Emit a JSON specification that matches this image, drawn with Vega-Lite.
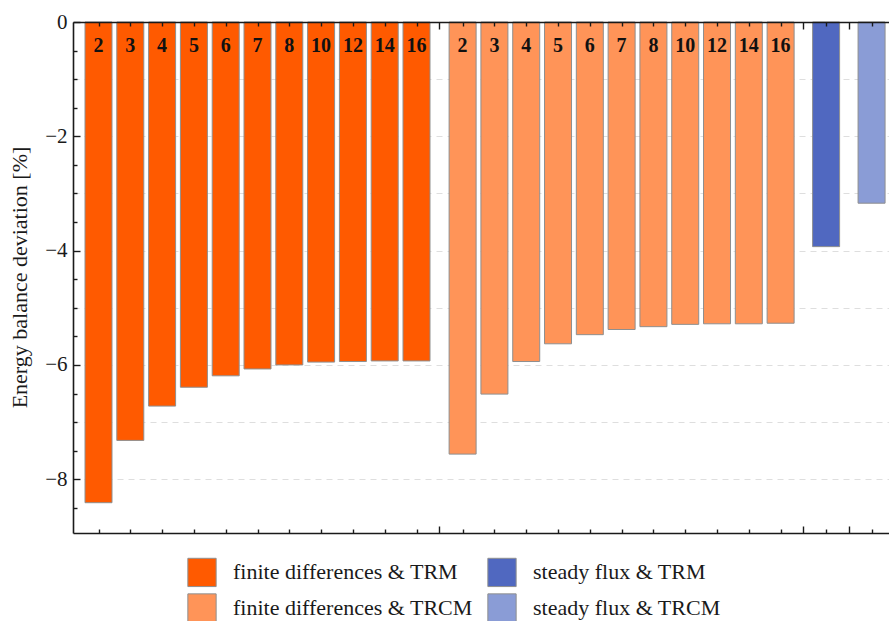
{
  "$schema": "https://vega.github.io/schema/vega-lite/v6.json",
  "width": 816,
  "height": 511,
  "autosize": {"type": "none"},
  "padding": {"left": 73, "top": 22, "right": 0, "bottom": 88},
  "background": "white",
  "config": {
    "view": {"stroke": null},
    "font": "Liberation Serif",
    "axis": {
      "domainColor": "#1a1a1a",
      "domainWidth": 1.6,
      "tickColor": "#1a1a1a",
      "tickWidth": 1.4,
      "labelFont": "Liberation Serif",
      "labelColor": "#1a1a1a",
      "titleFont": "Liberation Serif",
      "titleColor": "#1a1a1a",
      "titleFontWeight": "normal"
    }
  },
  "data": {
    "values": [
      {"series": "finite differences & TRM", "n": "2", "slot": 1, "deviation": -8.41},
      {"series": "finite differences & TRM", "n": "3", "slot": 2, "deviation": -7.32},
      {"series": "finite differences & TRM", "n": "4", "slot": 3, "deviation": -6.72},
      {"series": "finite differences & TRM", "n": "5", "slot": 4, "deviation": -6.39},
      {"series": "finite differences & TRM", "n": "6", "slot": 5, "deviation": -6.19},
      {"series": "finite differences & TRM", "n": "7", "slot": 6, "deviation": -6.07},
      {"series": "finite differences & TRM", "n": "8", "slot": 7, "deviation": -6.0},
      {"series": "finite differences & TRM", "n": "10", "slot": 8, "deviation": -5.95},
      {"series": "finite differences & TRM", "n": "12", "slot": 9, "deviation": -5.94},
      {"series": "finite differences & TRM", "n": "14", "slot": 10, "deviation": -5.93},
      {"series": "finite differences & TRM", "n": "16", "slot": 11, "deviation": -5.93},
      {"series": "finite differences & TRCM", "n": "2", "slot": 12.45, "deviation": -7.56},
      {"series": "finite differences & TRCM", "n": "3", "slot": 13.45, "deviation": -6.51},
      {"series": "finite differences & TRCM", "n": "4", "slot": 14.45, "deviation": -5.94},
      {"series": "finite differences & TRCM", "n": "5", "slot": 15.45, "deviation": -5.63},
      {"series": "finite differences & TRCM", "n": "6", "slot": 16.45, "deviation": -5.47},
      {"series": "finite differences & TRCM", "n": "7", "slot": 17.45, "deviation": -5.38},
      {"series": "finite differences & TRCM", "n": "8", "slot": 18.45, "deviation": -5.33},
      {"series": "finite differences & TRCM", "n": "10", "slot": 19.45, "deviation": -5.29},
      {"series": "finite differences & TRCM", "n": "12", "slot": 20.45, "deviation": -5.28},
      {"series": "finite differences & TRCM", "n": "14", "slot": 21.45, "deviation": -5.28},
      {"series": "finite differences & TRCM", "n": "16", "slot": 22.45, "deviation": -5.27},
      {"series": "steady flux & TRM", "n": null, "slot": 23.88, "deviation": -3.93},
      {"series": "steady flux & TRCM", "n": null, "slot": 25.31, "deviation": -3.17}
    ]
  },
  "resolve": {"axis": {"y": "independent"}},
  "layer": [
    {
      "mark": {"type": "bar", "size": 27, "stroke": "#8f8f8f", "strokeWidth": 1},
      "encoding": {
        "x": {
          "field": "slot",
          "type": "quantitative",
          "scale": {"domain": [0.198, 25.858], "nice": false, "zero": false, "padding": 0},
          "axis": {
            "orient": "bottom",
            "zindex": 1,
            "title": null,
            "grid": false,
            "labels": false,
            "values": [1, 2, 3, 4, 5, 6, 7, 8, 9, 10, 11, 11.71, 12.45, 13.45, 14.45, 15.45, 16.45, 17.45, 18.45, 19.45, 20.45, 21.45, 22.45, 23.15, 23.88, 24.6, 25.31],
            "tickSize": {"condition": {"test": "indexof([11.71, 23.15, 24.6], datum.value) >= 0", "value": -7}, "value": -4}
          }
        },
        "y": {
          "field": "deviation",
          "type": "quantitative",
          "scale": {"domain": [-8.94, 0], "nice": false, "padding": 0},
          "axis": {
            "title": "Energy balance deviation [%]",
            "titleFont": "Liberation Serif",
            "titleFontSize": 22,
            "titleX": -54,
            "titleY": 255,
            "titleBaseline": "middle",
            "titleAngle": -90,
            "values": [0, -0.5, -1, -1.5, -2, -2.5, -3, -3.5, -4, -4.5, -5, -5.5, -6, -6.5, -7, -7.5, -8, -8.5],
            "labelOverlap": false,
            "labelExpr": "indexof([-2, -4, -6, -8], datum.value) >= 0 ? '−' + (0 - datum.value) : (datum.value === 0 ? '0' : '')",
            "labelFont": "Liberation Serif",
            "labelFontSize": 21,
            "labelPadding": 13,
            "tickSize": {"condition": {"test": "indexof([0, -2, -4, -6, -8], datum.value) >= 0", "value": -7}, "value": -4},
            "grid": true,
            "gridColor": "#dedede",
            "gridDash": [6, 5],
            "gridWidth": 1,
            "gridOpacity": {"condition": {"test": "indexof([-1, -2, -3, -4, -5, -6, -7, -8], datum.value) >= 0", "value": 1}, "value": 0}
          }
        },
        "color": {
          "field": "series",
          "type": "nominal",
          "scale": {
            "domain": ["finite differences & TRM", "finite differences & TRCM", "steady flux & TRM", "steady flux & TRCM"],
            "range": ["#ff5a00", "#ff9458", "#5068c0", "#8a9cd6"]
          },
          "legend": {
            "title": null,
            "orient": "none",
            "legendX": 114,
            "legendY": 535,
            "columns": 2,
            "padding": 0,
            "symbolType": "square",
            "symbolSize": 800,
            "symbolStrokeColor": "#8f8f8f",
            "symbolStrokeWidth": 1,
            "symbolOpacity": 1,
            "labelFont": "Liberation Serif",
            "labelFontSize": 22,
            "labelColor": "#1a1a1a",
            "labelOffset": 16,
            "labelLimit": 400,
            "rowPadding": 2,
            "columnPadding": 12
          }
        }
      }
    },
    {
      "transform": [{"filter": "datum.n != null"}],
      "mark": {"type": "text", "font": "Liberation Serif", "fontWeight": "bold", "fontSize": 20, "baseline": "middle", "dy": 24, "color": "#111111"},
      "encoding": {
        "x": {
          "field": "slot",
          "type": "quantitative",
          "axis": {
            "orient": "top",
            "zindex": 1,
            "title": null,
            "grid": false,
            "labels": false,
            "values": [1, 2, 3, 4, 5, 6, 7, 8, 9, 10, 11, 11.71, 12.45, 13.45, 14.45, 15.45, 16.45, 17.45, 18.45, 19.45, 20.45, 21.45, 22.45, 23.15, 23.88, 24.6, 25.31],
            "tickSize": {"condition": {"test": "indexof([11.71, 23.15, 24.6], datum.value) >= 0", "value": -7}, "value": -4}
          }
        },
        "y": {"datum": 0, "axis": null},
        "text": {"field": "n"}
      }
    }
  ]
}
